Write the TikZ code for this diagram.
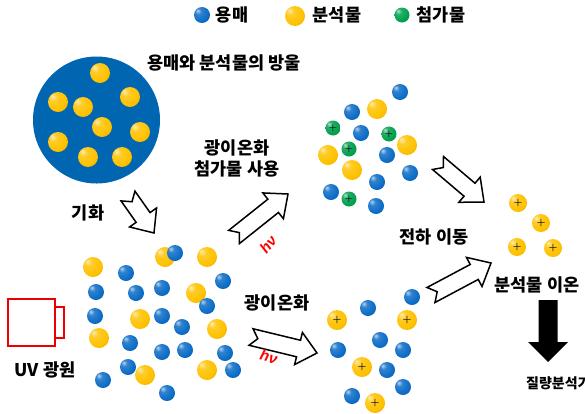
\documentclass[tikz,border=0pt]{standalone}
\usepackage{fontspec}
\newfontfamily\krfont{Noto Sans CJK KR}
\newfontfamily\hvfont{Liberation Sans}
\usetikzlibrary{calc}
\definecolor{dropblue}{RGB}{0,102,178}
\definecolor{solvblue}{RGB}{12,108,198}
\definecolor{analgold}{RGB}{255,194,0}
\definecolor{addgreen}{RGB}{0,160,78}
\definecolor{uvred}{RGB}{238,0,0}
\makeatletter
\pgfdeclareradialshading[tikz@ball]{glossy}{\pgfqpoint{-14bp}{14bp}}{%
  color(0bp)=(tikz@ball!30!white); color(10bp)=(tikz@ball!85!white);
  color(28bp)=(tikz@ball); color(46bp)=(tikz@ball!82!black);
  color(66bp)=(tikz@ball!55!black)}
\makeatother
\tikzset{
  ballbase/.style={circle,inner sep=0pt,shading=glossy},
  solv/.style={ballbase,minimum size=16pt,ball color=solvblue,shading=glossy},
  anal/.style={ballbase,minimum size=20pt,ball color=analgold,shading=glossy},
  addi/.style={ballbase,minimum size=15pt,ball color=addgreen,shading=glossy,
    font=\bfseries\fontsize{9}{9}\selectfont},
  ion/.style={anal,font=\bfseries\fontsize{10}{10}\selectfont},
  blockarr/.style={draw=black,fill=white,line width=1.5pt,line join=miter},
  lbl/.style={font=\krfont\bfseries\fontsize{17.5}{20}\selectfont,inner sep=0pt}
}
\begin{document}
\begin{tikzpicture}[
  x=1pt,y=-1pt,
  hv/.style={text=red,inner sep=0pt,font=\hvfont\bfseries\itshape\fontsize{15}{15}\selectfont},
  uvbox/.style={draw=uvred,line width=1.8pt}
]
  \useasboundingbox (0,0) rectangle (585,413);

  \def\notchArrow#1#2{%
    \coordinate (#2b) at ($(#2)!19pt!(#1)$);
    \draw[blockarr] ($(#1)!8.5pt!90:(#2)$) -- ($(#2b)!8.5pt!90:(#2)$)
      -- ($(#2b)!16.5pt!90:(#2)$) -- (#2) -- ($(#2b)!16.5pt!-90:(#2)$)
      -- ($(#2b)!8.5pt!-90:(#2)$) -- ($(#1)!8.5pt!-90:(#2)$)
      -- ($(#1)!7pt!(#2)$) -- cycle;
  }

  % legend
  \node[solv] (legS) at (202,15) {};
  \node[lbl] (legSt) at (232,15) {용매};
  \node[anal] (legA) at (295,16) {};
  \node[lbl] (legAt) at (337,15) {분석물};
  \node[addi] (legD) at (402,15) {};
  \node[lbl] (legDt) at (441,15) {첨가물};

  % droplet
  \fill[dropblue] (96.5,120) circle (63.5);
  \foreach \x/\y [count=\i] in {100/73,130/97,58/102,83/107,102/127,
      140/132,58/142,88/157,122/157}
    \node[anal] (dA\i) at (\x,\y) {};
  \node[lbl] (dropLbl) at (224,63) {용매와 분석물의 방울};

  % vaporised cloud
  \foreach \x/\y [count=\i] in {93/267,165/257,207/257,196/293,140/319,
      99/338,217/329,207/370}
    \node[anal] (cA\i) at (\x,\y) {};
  \foreach \x/\y [count=\i] in {175/253,126/273,96/292,136/293,162/288,
      223/281,207/306,95/316,162/316,182/327,130/343,162/352,185/350,
      225/353,128/367,233/370,103/380,167/393}
    \node[solv] (cS\i) at (\x,\y) {};
  \node[anal] (cA9) at (145,375) {};

  % UV lamp
  \draw[uvbox] (8,299) rectangle (55,346);
  \draw[uvbox] (55,307) rectangle (64,338);
  \node[lbl] (uvLbl) at (45,370) {UV 광원};

  % dopant cloud
  \foreach \x/\y [count=\i] in {400/92,352/112,361/133,387/155,410/173,
      377/182,331/192,376/206}
    \node[solv] (tS\i) at (\x,\y) {};
  \foreach \x/\y [count=\i] in {377/109,407/145,328/155,352/170}
    \node[anal] (tA\i) at (\x,\y) {};
  \foreach \x/\y [count=\i] in {333/128,389/134,349/149,349/199}
    \node[addi] (tD\i) at (\x,\y) {+};

  % direct photoionisation cloud
  \foreach \x/\y [count=\i] in {412/297,368/308,380/340,338/350,403/350,
      387/370,403/387,352/396}
    \node[solv] (bS\i) at (\x,\y) {};
  \foreach \x/\y [count=\i] in {337/320,407/320,362/367,375/403}
    \node[ion] (bI\i) at (\x,\y) {+};

  % analyte ions
  \foreach \x/\y [count=\i] in {518/203,541/223,517/247,553/248}
    \node[ion,minimum size=18pt] (rI\i) at (\x,\y) {+};
  \node[lbl] (ionLbl) at (537,285) {분석물 이온};

  % process arrows
  \coordinate (vapT) at (128,196);  \coordinate (vapH) at (154,233);
  \coordinate (dopT) at (234,237);  \coordinate (dopH) at (288,194);
  \coordinate (ctT)  at (438,163);  \coordinate (ctH)  at (484,202);
  \coordinate (ionT) at (431,295);  \coordinate (ionH) at (491,263);
  \coordinate (piT)  at (251,337);  \coordinate (piH)  at (317,353);
  \notchArrow{vapT}{vapH}
  \notchArrow{dopT}{dopH}
  \notchArrow{ctT}{ctH}
  \notchArrow{ionT}{ionH}
  \notchArrow{piT}{piH}

  \node[lbl] (vapLbl) at (88,213) {기화};
  \node[lbl] (dopLbl1) at (237,148) {광이온화};
  \node[lbl] (dopLbl2) at (237,169) {첨가물 사용};
  \node[hv,rotate=50] (hvTop) at (268,244) {hν};
  \node[lbl] (ctLbl) at (434,237) {전하 이동};
  \node[lbl] (piLbl) at (277,303) {광이온화};
  \node[hv,rotate=-15] (hvBot) at (269,357) {hν};

  % to the mass spectrometer
  \coordinate (msTop) at (548,300);
  \coordinate (msTip) at (548,362);
  \fill[black] (msTop) ++(-9.5,0) -- ++(19,0) -- ++(0,42) -- ++(10.5,0)
    -- (msTip) -- ++(-20,-20) -- ++(10.5,0) -- cycle;
  \node[lbl,anchor=west,font=\krfont\bfseries\fontsize{14}{16}\selectfont]
    (msLbl) at (526,383) {질량분석기};

\end{tikzpicture}
\end{document}
